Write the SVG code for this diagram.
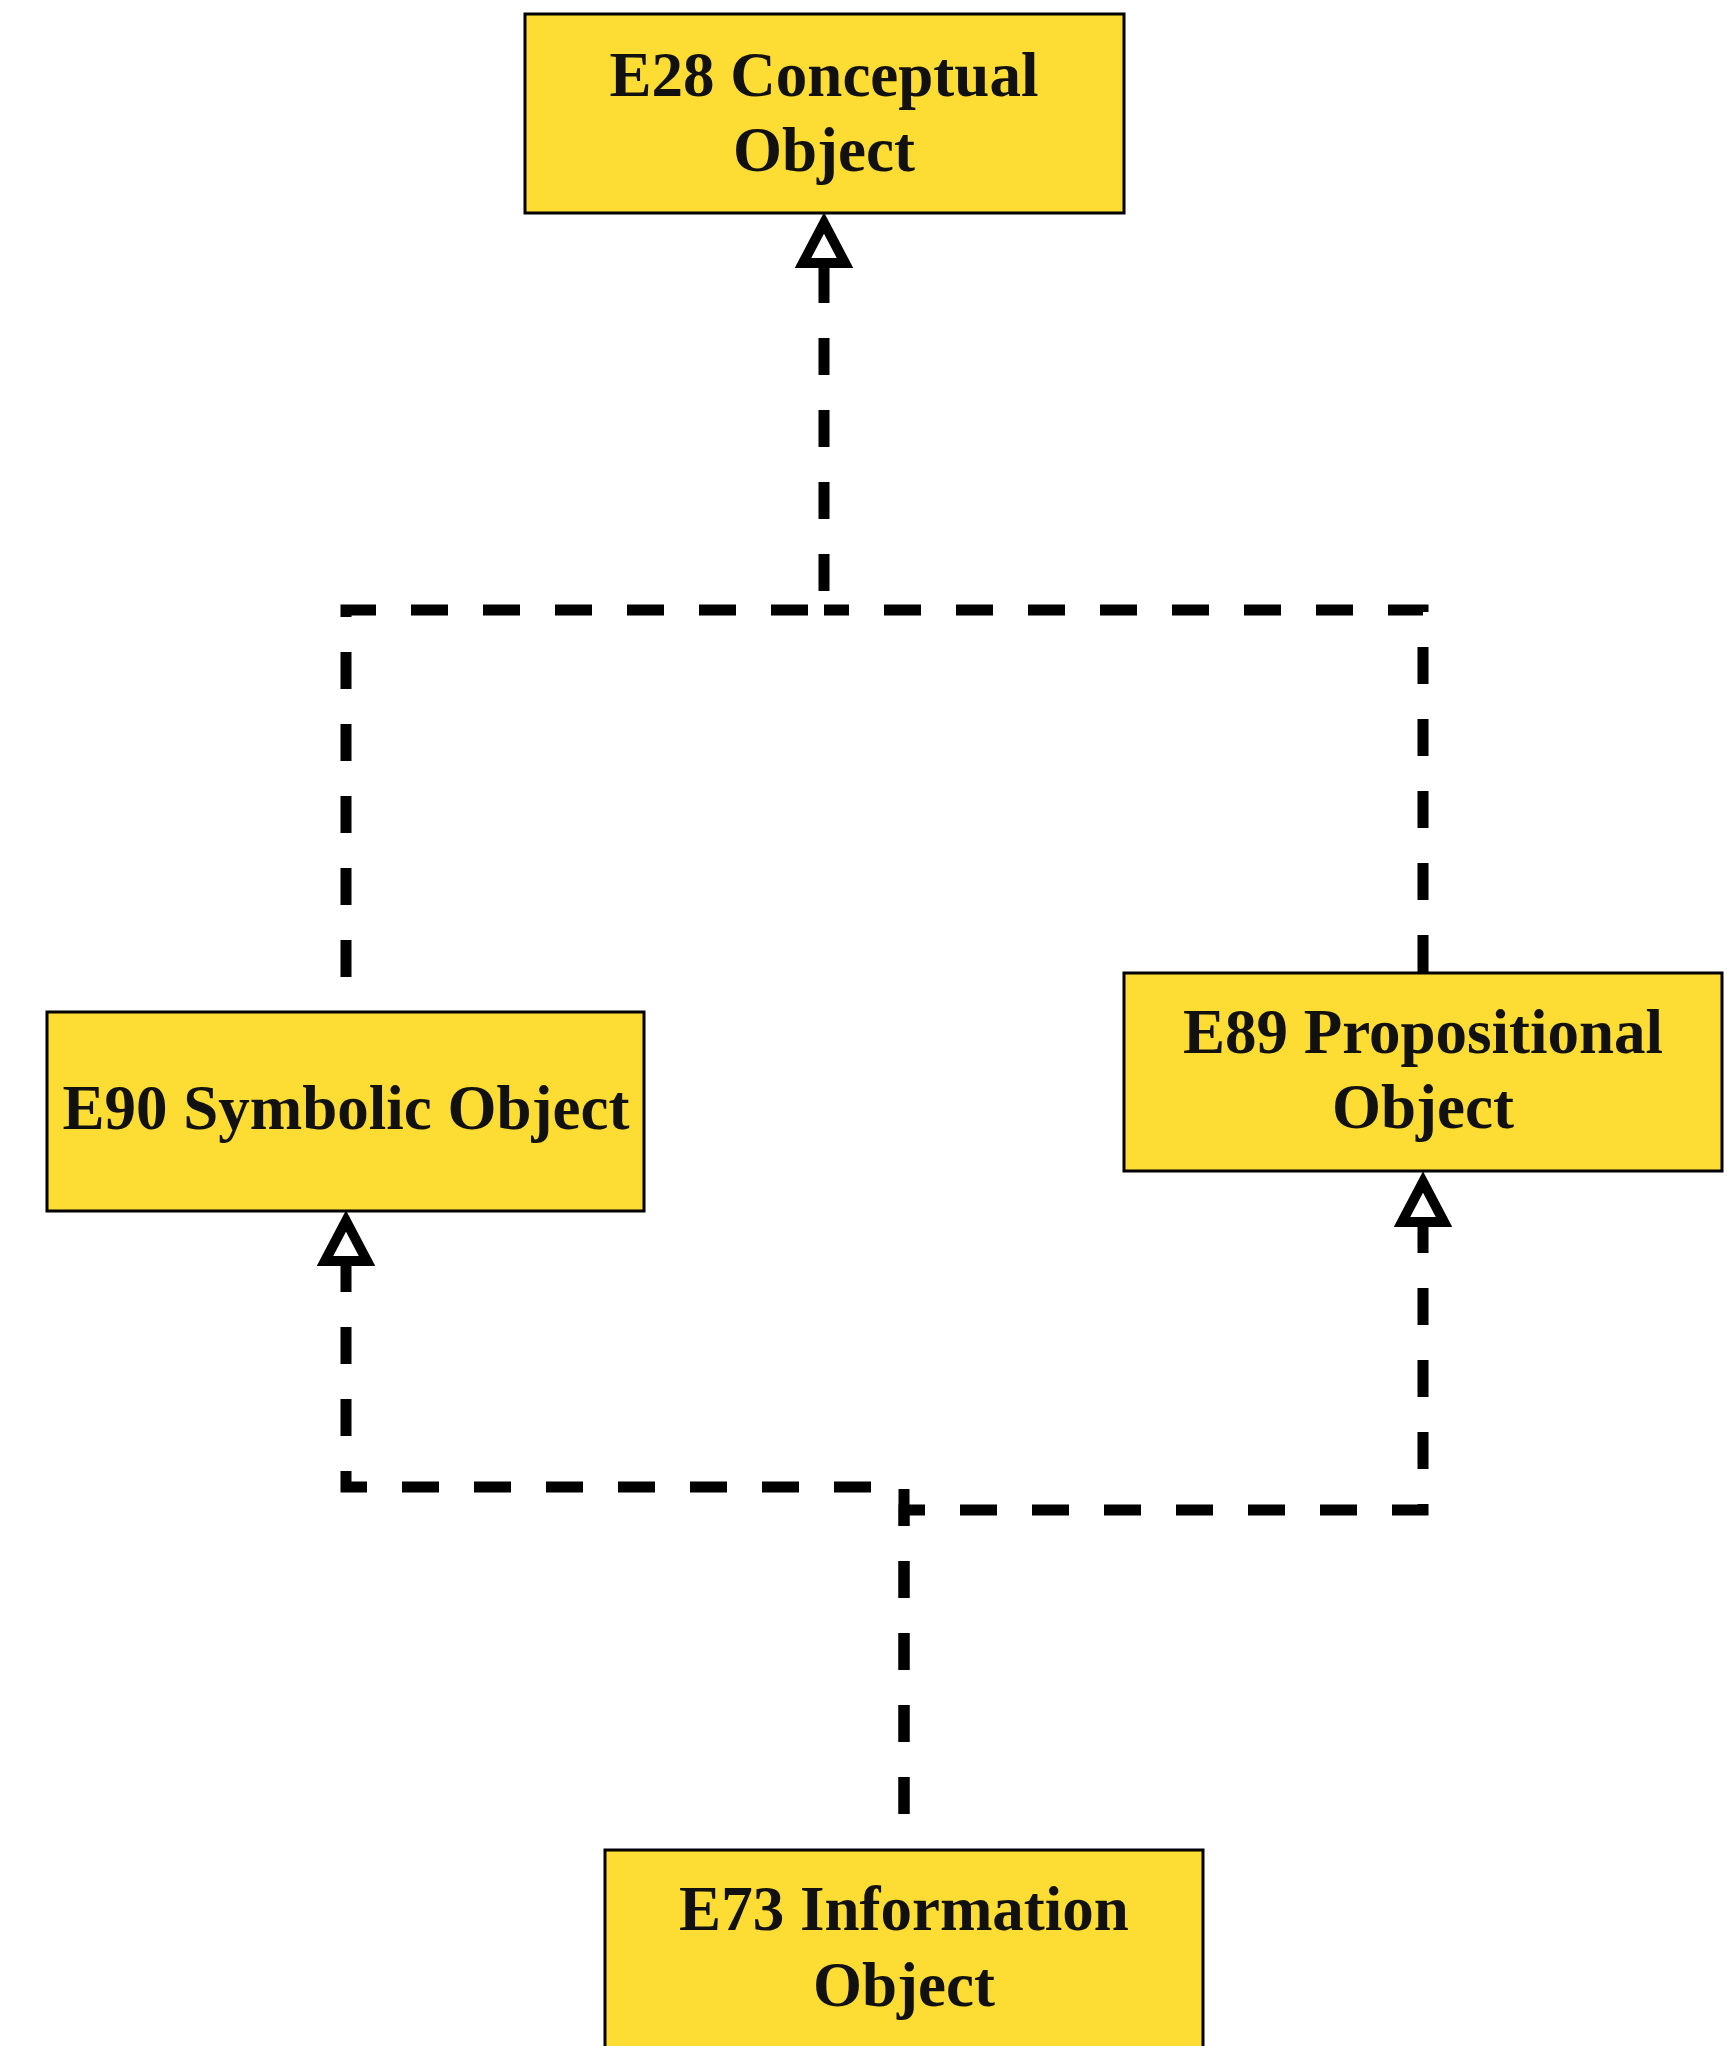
<svg xmlns="http://www.w3.org/2000/svg" width="1727" height="2046" viewBox="0 0 1727 2046">
<style>
.box{fill:#FDDC33;stroke:#000;stroke-width:3}
.lbl{font-family:"Liberation Serif","Times New Roman",serif;font-weight:bold;font-size:63px;fill:#111;text-anchor:middle}
.edge{fill:none;stroke:#000;stroke-width:11;stroke-dasharray:37 35}
.head{fill:#fff;stroke:#000;stroke-width:10;stroke-linejoin:miter;stroke-miterlimit:10}
</style>
<rect width="1727" height="2046" fill="#fff"/>
<g id="connectors">
<path class="edge" d="M824 266 V610 H346 V1011"/>
<path class="edge" d="M1423 972 V610 H824"/>
<path class="edge" style="stroke-dashoffset:37" d="M904 1849 V1487 H346 V1264"/>
<path class="edge" style="stroke-dashoffset:37" d="M904 1849 V1510 H1423 V1225"/>
<polygon class="head" points="824,223 803,263 845,263"/>
<polygon class="head" points="346,1221 325,1261 367,1261"/>
<polygon class="head" points="1423,1182 1402,1222 1444,1222"/>
</g>
<g id="e28">
<rect class="box" x="525" y="14" width="599" height="199"/>
<text class="lbl" x="824" y="96">E28 Conceptual</text>
<text class="lbl" x="824" y="171">Object</text>
</g>
<g id="e90">
<rect class="box" x="47" y="1012" width="597" height="199"/>
<text class="lbl" x="346" y="1129">E90 Symbolic Object</text>
</g>
<g id="e89">
<rect class="box" x="1124" y="973" width="598" height="198"/>
<text class="lbl" x="1423" y="1053">E89 Propositional</text>
<text class="lbl" x="1423" y="1128">Object</text>
</g>
<g id="e73">
<rect class="box" x="605" y="1850" width="598" height="200"/>
<text class="lbl" x="904" y="1930">E73 Information</text>
<text class="lbl" x="904" y="2006">Object</text>
</g>
</svg>
